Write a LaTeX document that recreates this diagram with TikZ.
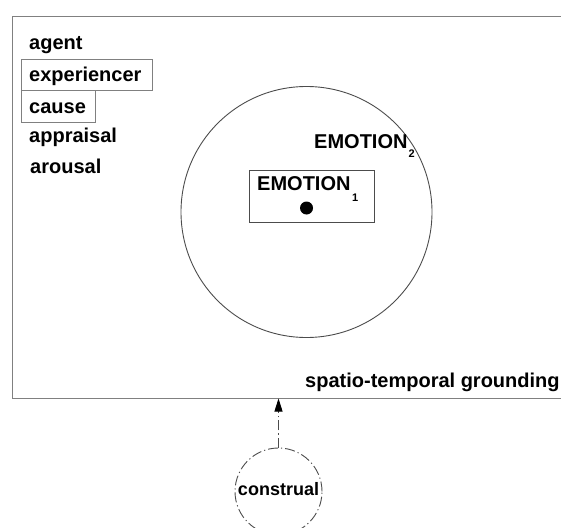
\documentclass[tikz,border=0pt]{standalone}
\usepackage{fontspec}
\setmainfont{Liberation Sans}
\usetikzlibrary{arrows.meta}
\definecolor{framegray}{gray}{0.5}
\definecolor{linegray}{gray}{0.3}
\tikzset{
  role/.style={font=\fontsize{20}{20}\selectfont\bfseries, anchor=base west, inner sep=0pt},
  rolebox/.style={draw=framegray, line width=1pt, anchor=north west, inner sep=0pt},
  emo/.style={font=\fontsize{20}{20}\selectfont\bfseries, anchor=base west, inner sep=0pt},
  dashdot/.style={dash pattern=on 10pt off 3pt on 1.2pt off 3pt},
}
\newcommand{\emosub}[2]{\raisebox{-#2}{\fontsize{11}{11}\selectfont #1}}
\begin{document}
\begin{tikzpicture}[x=1pt, y=-1pt]
  \useasboundingbox (0,0) rectangle (561,527);
  \clip (0,0) rectangle (561,527);

  % outer frame, open to the right
  \node[draw=framegray, line width=1pt, anchor=north west, inner sep=0pt,
        minimum width=620pt, minimum height=381.5pt] (frame) at (12,16) {};

  % participant roles
  \node[rolebox, minimum width=131pt, minimum height=31pt] (expbox) at (21,59) {};
  \node[rolebox, minimum width=74pt, minimum height=32pt] (causebox) at (21,90) {};
  \node[role] (agent) at (29,49) {agent};
  \node[role] (exp) at (29,81) {experiencer};
  \node[role] (cause) at (29,113) {cause};
  \node[role] (appr) at (29,142) {appraisal};
  \node[role] (arou) at (30,173) {arousal};

  % emotion scope
  \node[draw=linegray, line width=0.9pt, circle, minimum size=251pt, inner sep=0pt] (emo2) at (306.5,212) {};
  \node[emo] (emo2lbl) at (314,148) {EMOTION\kern1pt\emosub{2}{9pt}};

  \node[draw=linegray, line width=0.9pt, anchor=north west, inner sep=0pt,
        minimum width=125pt, minimum height=52pt] (emo1box) at (249,170) {};
  \node[emo] (emo1lbl) at (257,190) {EMOTION\kern1.5pt\emosub{1}{11.5pt}};
  \node[circle, fill=black, minimum size=13pt, inner sep=0pt] (core) at (306.5,208) {};

  % grounding
  \node[role] (ground) at (305,387) {spatio-temporal grounding};

  % construal
  \node[draw=linegray, line width=0.9pt, dashdot, circle, minimum size=87pt, inner sep=0pt,
        font=\fontsize{18}{18}\selectfont\bfseries, text height=10pt, text depth=3pt] (constr) at (278.5,491.5) {construal};
  \draw[draw=linegray, line width=0.9pt, dashdot,
        -{Triangle[length=13pt,width=8pt,fill=black,color=black]}]
    (constr.north) -- (constr.north |- frame.south);
\end{tikzpicture}
\end{document}
